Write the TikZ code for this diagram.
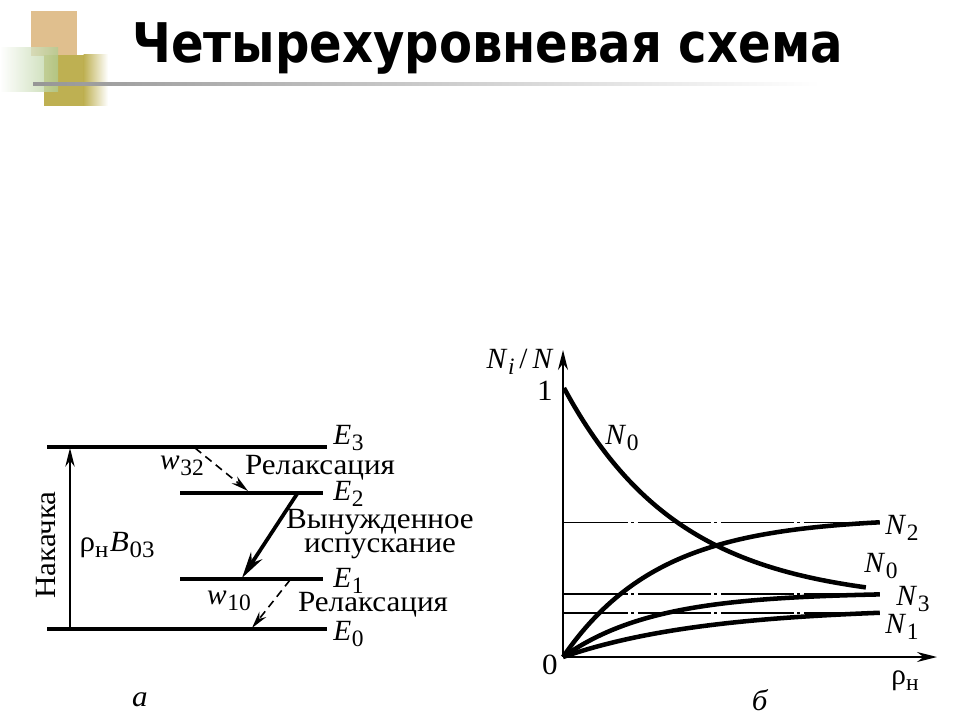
\documentclass[tikz,border=0pt]{standalone}
\usepackage{fontspec}
\usepackage{graphicx}
\setmainfont{Liberation Serif}
\newfontfamily\titlefont{DejaVu Sans}
\usetikzlibrary{arrows.meta}
\definecolor{tan}{RGB}{224,191,142}
\definecolor{olivebox}{RGB}{190,176,82}
\definecolor{greenbox}{RGB}{176,204,146}
\definecolor{rulegray}{RGB}{150,150,150}
\newcommand{\isub}[2]{\textit{#1}\kern0.02em\raisebox{-0.42ex}{\scalebox{0.8}{#2}}}
\newcommand{\wide}[1]{\scalebox{1.06}[1]{#1}}
\tikzset{
  txt/.style={font=\fontsize{22}{25}\selectfont, inner sep=0pt},
  level/.style={line width=3.3pt},
  curve/.style={line width=3.4pt},
  axisline/.style={line width=1.4pt, -{Stealth[length=15pt,width=7.5pt]}},
  pump/.style={line width=1.3pt, -{Stealth[length=14pt,width=7pt]}},
  relax/.style={line width=1.2pt, dash pattern=on 6pt off 4pt, -{Stealth[length=13pt,width=6.5pt]}},
  stim/.style={line width=2.8pt, -{Stealth[length=20pt,width=10pt]}},
  guide/.style={line width=0.9pt, dash pattern=on 54.75pt off 2.6pt on 2.25pt off 2.6pt, dash phase=6pt}
}
\begin{document}
\begin{tikzpicture}[x=0.75pt,y=-0.75pt]
\useasboundingbox (0,0) rectangle (960,720);
\fill[white] (0,0) rectangle (960,720);
% decoration
\fill[tan] (31,11) rectangle (77,56);
\fill[olivebox] (44,55) rectangle (84,106);
\shade[left color=olivebox, right color=white] (83.5,55) rectangle (108,106);
\shade[left color=white, right color=greenbox, opacity=0.75] (0,48) rectangle (58,92);
\shade[left color=rulegray, right color=white] (33,82.5) rectangle (820,85.5);
% title
\node[anchor=base west, inner sep=0pt] (title) at (132,63)
  {\scalebox{0.88}[1]{\titlefont\bfseries\fontsize{41}{45}\selectfont Четырехуровневая схема}};

% ---------- panel a ----------
\coordinate (E3l) at (47,447);  \coordinate (E3r) at (327,447);
\coordinate (E2l) at (180,493); \coordinate (E2r) at (323,493);
\coordinate (E1l) at (180,579); \coordinate (E1r) at (323,579);
\coordinate (E0l) at (47,629);  \coordinate (E0r) at (327,629);
\draw[level] (E3l) -- (E3r);
\draw[level] (E2l) -- (E2r);
\draw[level] (E1l) -- (E1r);
\draw[level] (E0l) -- (E0r);
\node[txt, anchor=west] (lE3) at (333,438) {\isub{E}{3}};
\node[txt, anchor=west] (lE2) at (333,494) {\isub{E}{2}};
\node[txt, anchor=west] (lE1) at (333,581) {\isub{E}{1}};
\node[txt, anchor=west] (lE0) at (333,634) {\isub{E}{0}};
% pump
\coordinate (p0) at (70,628);
\coordinate (p3) at (70,448);
\draw[pump] (p0) -- (p3);
\node[txt, rotate=90] (nak) at (46,545) {\wide{Накачка}};
\node[txt] (rhoB) at (117,545) {\wide{ρ\raisebox{-0.42ex}{\scalebox{0.8}{н}}\kern0.05em\isub{B}{03}}};
% relaxation 3->2
\coordinate (r3a) at (195,448);
\coordinate (r3b) at (248,491);
\draw[relax] (r3a) -- (r3b);
\node[txt] (w32) at (182,466) {\isub{w}{32}};
\node[txt] (rel1) at (320,468) {\wide{Релаксация}};
% stimulated
\coordinate (s2) at (297,494);
\coordinate (s1) at (242,578);
\draw[stim] (s2) -- (s1);
\node[txt] (vyn) at (380,522) {\wide{Вынужденное}};
\node[txt] (isp) at (380,549) {\wide{испускание}};
% relaxation 1->0
\coordinate (r1a) at (290,580);
\coordinate (r1b) at (252,628);
\draw[relax] (r1a) -- (r1b);
\node[txt] (w10) at (229,601) {\isub{w}{10}};
\node[txt] (rel2) at (373,605) {\wide{Релаксация}};
\node[txt] (la) at (140,700) {\wide{\textit{а}}};

% ---------- panel b ----------
\coordinate (O) at (563,657);
\coordinate (Ytip) at (563,350);
\coordinate (Xtip) at (937,657);
\draw[guide] (563,522.5) coordinate (g2a) -- (880,522.5) coordinate (g2b);
\draw[guide] (563,594) coordinate (g3a) -- (880,594) coordinate (g3b);
\draw[guide] (563,613) coordinate (g1a) -- (880,613) coordinate (g1b);
\draw[axisline] (O) -- (Ytip);
\draw[axisline] (O) -- (Xtip);
\draw[curve] plot[domain=0:0.953, samples=80] ({564+317*\x},{657-269*(0.2+0.8*exp(-2.74*\x))});
\draw[curve] plot[domain=0:1, samples=80] ({563+317*\x},{657-269*0.52*(1-exp(-3.3*\x))});
\draw[curve] plot[domain=0:1, samples=80] ({563+317*\x},{657-269*0.24*(1-exp(-3.5*\x))});
\draw[curve] plot[domain=0:1, samples=80] ({563+317*\x},{657-269*0.185*(1-exp(-2.2*\x))});
\node[txt] (ylab) at (520,362) {\isub{N}{\textit{i}}\,/\,\textit{N}};
\node[txt] (one) at (545,391) {\wide{1}};
\node[txt] (zero) at (550,665) {\wide{0}};
\node[txt] (xlab) at (905,681) {ρ\raisebox{-0.42ex}{\scalebox{0.8}{н}}};
\node[txt] (lb) at (760,700) {\wide{\textit{б}}};
\node[txt] (N0a) at (622,438) {\isub{N}{0}};
\node[txt] (N2) at (902,528) {\isub{N}{2}};
\node[txt] (N0b) at (881,566) {\isub{N}{0}};
\node[txt] (N3) at (913,599) {\isub{N}{3}};
\node[txt] (N1) at (902,627) {\isub{N}{1}};
\end{tikzpicture}
\end{document}
